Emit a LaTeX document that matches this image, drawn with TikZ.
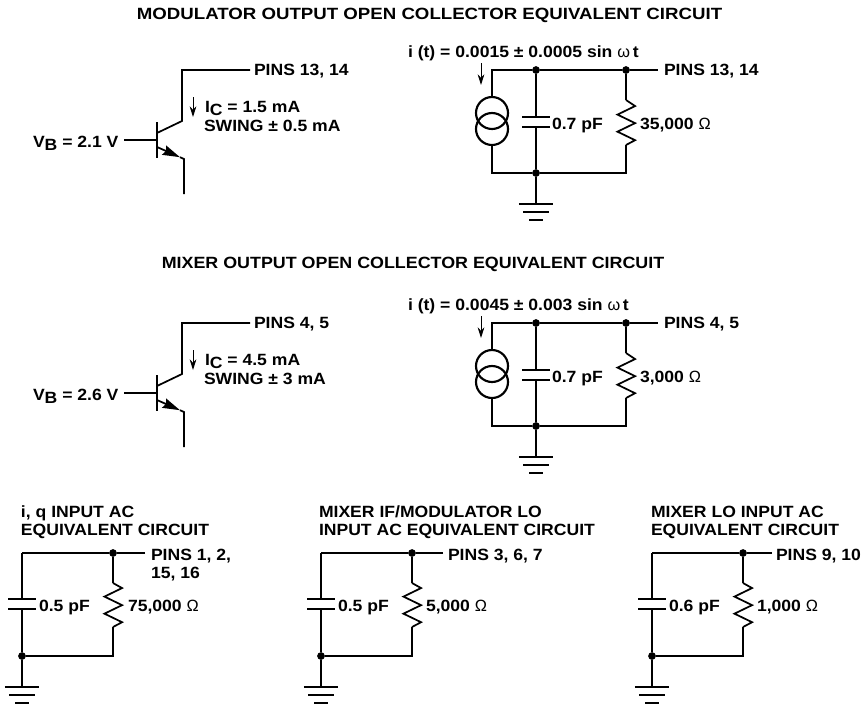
\documentclass[tikz,border=0pt]{standalone}
\usepackage{fontspec}
\setmainfont{Liberation Sans}[BoldFont={Liberation Sans Bold},BoldFeatures={FakeStretch=1.08}]
\newfontfamily\reg{Liberation Sans}[BoldFont={Liberation Sans}]
\newfontfamily\tia{Liberation Sans Bold}[FakeStretch=1.147]
\newfontfamily\tib{Liberation Sans Bold}[FakeStretch=1.098]
\usetikzlibrary{arrows.meta}
\newcommand{\om}{{\reg\fontsize{12.2}{14}\selectfont Ω}}
\newcommand{\omg}{{\reg ω}}
\tikzset{
  x=0.75pt,y=-0.75pt,
  wire/.style={line width=1.3pt,line join=miter},
  lab/.style={anchor=base west,inner sep=0pt,outer sep=0pt,font=\bfseries\fontsize{12.2}{14}\selectfont},
  titlea/.style={anchor=base,inner sep=0pt,outer sep=0pt,font=\tia\fontsize{12.2}{14}\selectfont},
  titleb/.style={anchor=base,inner sep=0pt,outer sep=0pt,font=\tib\fontsize{12.2}{14}\selectfont},
  dot/.style={circle,fill=black,draw=none,inner sep=0pt,minimum size=5.8pt},
  plate/.style={line width=1.6pt},
  gbar/.style={line width=1.6pt},
  src/.style={circle,draw=black,line width=1.6pt,inner sep=0pt,minimum size=24pt},
  cur/.style={line width=0.7pt,-{Stealth[length=8pt,width=5pt]}},
  emit/.style={wire,-{Stealth[length=13pt,width=7.5pt,inset=1.5pt]}},
}
% ground symbol below coordinate #1 (top of first bar)
\newcommand{\gnd}[1]{%
  \draw[gbar] ([xshift=-12.8pt]#1) -- ([xshift=12.8pt]#1);
  \draw[gbar] ([xshift=-9.4pt,yshift=-6pt]#1) -- ([xshift=9.4pt,yshift=-6pt]#1);
  \draw[gbar] ([xshift=-5.2pt,yshift=-12pt]#1) -- ([xshift=5.2pt,yshift=-12pt]#1);
}
% resistor from lower coordinate #1 up to upper coordinate #2
\newcommand{\res}[2]{%
  \draw[wire,line join=miter] (#1) -- ++(6.8pt,3.6pt) -- ++(-13.2pt,6.4pt) -- ++(13.2pt,6.4pt) -- ++(-13.2pt,6.4pt) -- ++(13.2pt,6.4pt) -- (#2);
}
\newcommand{\capa}[3]{% top, bottom, centre
  \draw[wire] (#1) -- ([yshift=3.75pt]#3);
  \draw[wire] ([yshift=-3.75pt]#3) -- (#2);
  \draw[plate] ([xshift=-10.5pt,yshift=3.75pt]#3) -- ([xshift=10.5pt,yshift=3.75pt]#3);
  \draw[plate] ([xshift=-10.5pt,yshift=-3.75pt]#3) -- ([xshift=10.5pt,yshift=-3.75pt]#3);
}
\begin{document}
\begin{tikzpicture}
\useasboundingbox (0,0) rectangle (866,707);
\node[titlea] (t1) at (429.5,19.5) {MODULATOR OUTPUT OPEN COLLECTOR EQUIVALENT CIRCUIT};
\node[titleb] (t2) at (413,268.5) {MIXER OUTPUT OPEN COLLECTOR EQUIVALENT CIRCUIT};

% ---------- transistor 1
\begin{scope}[name prefix=qa-]
\coordinate (b0) at (124,140); \coordinate (bb) at (157,140);
\coordinate (bt) at (157,122); \coordinate (bl) at (157,158);
\coordinate (c1) at (157,133); \coordinate (c2) at (182,121); \coordinate (c3) at (182,70); \coordinate (c4) at (250,70);
\coordinate (e1) at (157,147); \coordinate (e2) at (184,159); \coordinate (e3) at (184,194); \coordinate (et) at (180,157.2);
\draw[wire] (b0) -- (bb);
\draw[line width=1.7pt] (bt) -- (bl);
\draw[wire] (c1) -- (c2) -- (c3) -- (c4);
\draw[emit] (e1) -- (et);
\draw[wire] (et) -- (e2) -- (e3);
\coordinate (a1) at (193,97); \coordinate (a2) at (193,117);
\draw[cur] (a1) -- (a2);
\node[lab] (pins) at (254,75) {PINS 13, 14};
\node[lab] (ic) at (205,112) {I\raisebox{-2.4pt}{C} = 1.5 mA};
\node[lab] (sw) at (204,131) {SWING ± 0.5 mA};
\node[lab] (vb) at (33,147) {V\raisebox{-2.4pt}{B} = 2.1 V};
\end{scope}

% ---------- transistor 2
\begin{scope}[name prefix=qb-,shift={(0,253)}]
\coordinate (b0) at (124,140); \coordinate (bb) at (157,140);
\coordinate (bt) at (157,122); \coordinate (bl) at (157,158);
\coordinate (c1) at (157,133); \coordinate (c2) at (182,121); \coordinate (c3) at (182,70); \coordinate (c4) at (250,70);
\coordinate (e1) at (157,147); \coordinate (e2) at (184,159); \coordinate (e3) at (184,194); \coordinate (et) at (180,157.2);
\draw[wire] (b0) -- (bb);
\draw[line width=1.7pt] (bt) -- (bl);
\draw[wire] (c1) -- (c2) -- (c3) -- (c4);
\draw[emit] (e1) -- (et);
\draw[wire] (et) -- (e2) -- (e3);
\coordinate (a1) at (193,97); \coordinate (a2) at (193,117);
\draw[cur] (a1) -- (a2);
\node[lab] (pins) at (254,75) {PINS 4, 5};
\node[lab] (ic) at (205,112) {I\raisebox{-2.4pt}{C} = 4.5 mA};
\node[lab] (sw) at (204,131) {SWING ± 3 mA};
\node[lab] (vb) at (33,147) {V\raisebox{-2.4pt}{B} = 2.6 V};
\end{scope}

% ---------- source circuit 1
\begin{scope}[name prefix=sa-]
\node[dot] (n1) at (536,70) {}; \node[dot] (n2) at (626,70) {}; \node[dot] (n3) at (536,173) {};
\coordinate (tl) at (492,70); \coordinate (bl) at (492,173); \coordinate (br) at (626,173); \coordinate (end) at (658,70);
\node[src] (s1) at (492,113) {}; \node[src] (s2) at (492,129) {};
\coordinate (cp) at (536,122);
\coordinate (rt) at (626,100); \coordinate (rb) at (626,145);
\coordinate (g) at (536,204);
\draw[wire] (s1.north) -- (tl) -- (n1) -- (n2) -- (end);
\draw[wire] (s2.south) -- (bl) -- (n3) -- (br) -- (rb);
\draw[wire] (n2) -- (rt);
\res{rb}{rt}
\capa{n1}{n3}{cp}
\draw[wire] (n3) -- (g);
\gnd{g}
\coordinate (a1) at (481,63); \coordinate (a2) at (481,85);
\draw[cur] (a1) -- (a2);
\node[lab] (it) at (408,57) {i (t) = 0.0015 ± 0.0005 sin \omg\,t};
\node[lab] (pins) at (664,75) {PINS 13, 14};
\node[lab] (cv) at (552,129) {0.7 pF};
\node[lab] (rv) at (640,129) {35,000 \om};
\end{scope}

% ---------- source circuit 2
\begin{scope}[name prefix=sb-,shift={(0,253)}]
\node[dot] (n1) at (536,70) {}; \node[dot] (n2) at (626,70) {}; \node[dot] (n3) at (536,173) {};
\coordinate (tl) at (492,70); \coordinate (bl) at (492,173); \coordinate (br) at (626,173); \coordinate (end) at (658,70);
\node[src] (s1) at (492,113) {}; \node[src] (s2) at (492,129) {};
\coordinate (cp) at (536,122);
\coordinate (rt) at (626,100); \coordinate (rb) at (626,145);
\coordinate (g) at (536,204);
\draw[wire] (s1.north) -- (tl) -- (n1) -- (n2) -- (end);
\draw[wire] (s2.south) -- (bl) -- (n3) -- (br) -- (rb);
\draw[wire] (n2) -- (rt);
\res{rb}{rt}
\capa{n1}{n3}{cp}
\draw[wire] (n3) -- (g);
\gnd{g}
\coordinate (a1) at (481,63); \coordinate (a2) at (481,85);
\draw[cur] (a1) -- (a2);
\node[lab] (it) at (408,57) {i (t) = 0.0045 ± 0.003 sin \omg\,t};
\node[lab] (pins) at (664,75) {PINS 4, 5};
\node[lab] (cv) at (552,129) {0.7 pF};
\node[lab] (rv) at (640,129) {3,000 \om};
\end{scope}

% ---------- RC circuits
\newcommand{\rc}[3]{% prefix, x shift, wire end x
\begin{scope}[name prefix=#1-,shift={(#2,0)}]
\node[dot] (n1) at (113,553) {}; \node[dot] (n2) at (22,656) {};
\coordinate (tl) at (22,553); \coordinate (br) at (113,656); \coordinate (end) at (#3,553);
\coordinate (cp) at (22,604); \coordinate (rt) at (113,583); \coordinate (rb) at (113,627);
\coordinate (g) at (22,687);
\draw[wire] (end) -- (n1) -- (tl);
\draw[wire] (n1) -- (rt);
\res{rb}{rt}
\draw[wire] (rb) -- (br) -- (n2);
\capa{tl}{n2}{cp}
\draw[wire] (n2) -- (g);
\gnd{g}
\end{scope}}
\rc{ra}{0}{145}
\rc{rb}{299}{144}
\rc{rc}{630}{142}

\node[lab] (ra1) at (21,517) {i, q INPUT AC};
\node[lab] (ra2) at (21,535) {EQUIVALENT CIRCUIT};
\node[lab] (ra3) at (151,560) {PINS 1, 2,};
\node[lab] (ra4) at (151,578) {15, 16};
\node[lab] (ra5) at (39,611) {0.5 pF};
\node[lab] (ra6) at (128,611) {75,000 \om};

\node[lab] (rb1) at (319,517) {MIXER IF/MODULATOR LO};
\node[lab] (rb2) at (319,535) {INPUT AC EQUIVALENT CIRCUIT};
\node[lab] (rb3) at (448,560) {PINS 3, 6, 7};
\node[lab] (rb5) at (338,611) {0.5 pF};
\node[lab] (rb6) at (426,611) {5,000 \om};

\node[lab] (rc1) at (651,517) {MIXER LO INPUT AC};
\node[lab] (rc2) at (651,535) {EQUIVALENT CIRCUIT};
\node[lab] (rc3) at (776,560) {PINS 9, 10};
\node[lab] (rc5) at (669,611) {0.6 pF};
\node[lab] (rc6) at (757,611) {1,000 \om};
\end{tikzpicture}
\end{document}
